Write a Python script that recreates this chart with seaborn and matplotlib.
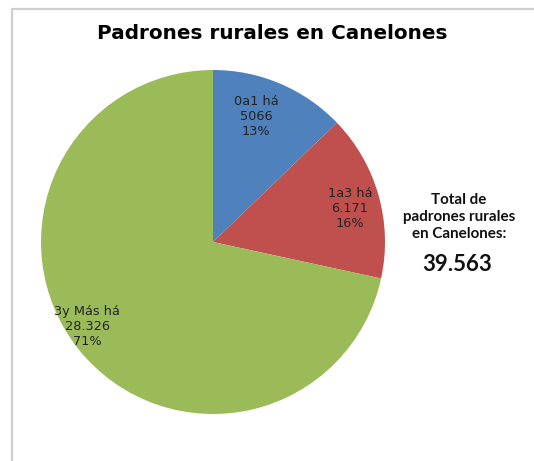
import matplotlib
matplotlib.use("Agg")
import matplotlib.pyplot as plt
import seaborn as sns
import numpy as np
from matplotlib.lines import Line2D

categories = ["0a1 há", "1a3 há", "3y Más há"]
values = [5066, 6171, 28326]
value_labels = ["5066", "6.171", "28.326"]
pct_labels = ["13%", "16%", "71%"]
colors = ["#4F81BD", "#C0504D", "#9BBB59"]
title = "Padrones rurales en Canelones"
total_lines = ["Total de", "padrones rurales", "en Canelones:"]
total_value = "39.563"

sns.set_theme(style="white")
plt.rcParams["font.family"] = ["DejaVu Sans"]

W, H = 534, 461
fig = plt.figure(figsize=(W / 100, H / 100), dpi=100)
fig.patch.set_facecolor("white")

# outer chart border (left and top visible)
fig.add_artist(Line2D([12 / W, 12 / W], [0, 1 - 9 / H], transform=fig.transFigure,
                      color="#cfcfcf", lw=1.6))
fig.add_artist(Line2D([12 / W, 1], [1 - 9 / H, 1 - 9 / H], transform=fig.transFigure,
                      color="#cfcfcf", lw=1.6))

ax = fig.add_axes([41 / W, (H - 414) / H, 344 / W, 344 / H])
pal = sns.color_palette(colors)
wedges, _ = ax.pie(values, colors=pal, startangle=90, counterclock=False,
                   radius=1.0, wedgeprops=dict(linewidth=0))
ax.set_xlim(-1, 1)
ax.set_ylim(-1, 1)
ax.set_aspect("equal")
ax.axis("off")

dists = [0.77, 0.82, 0.88]
angle_adj = [4, -2, -5]
for w, cat, v, p, d, a in zip(wedges, categories, value_labels, pct_labels, dists, angle_adj):
    th = np.deg2rad((w.theta1 + w.theta2) / 2 + a)
    ax.text(d * np.cos(th), d * np.sin(th), f"{cat}\n{v}\n{p}", ha="center", va="center",
            fontsize=9.3, color="#222222", linespacing=1.2)

fig.text(272 / W, 1 - 33 / H, title, ha="center", va="center", fontsize=14.4,
         fontweight="bold", color="black")

fig.text(459 / W, 1 - 217 / H, "\n".join(total_lines), ha="center", va="center",
         fontsize=10.9, fontweight="bold", family=["Lato", "DejaVu Sans"], linespacing=1.3,
         color="#111111")
fig.text(457 / W, 1 - 264 / H, total_value, ha="center", va="center",
         fontsize=16, fontweight="bold", family=["Lato", "DejaVu Sans"], color="#111111")

fig.savefig("out.png", dpi=100, facecolor="white")
